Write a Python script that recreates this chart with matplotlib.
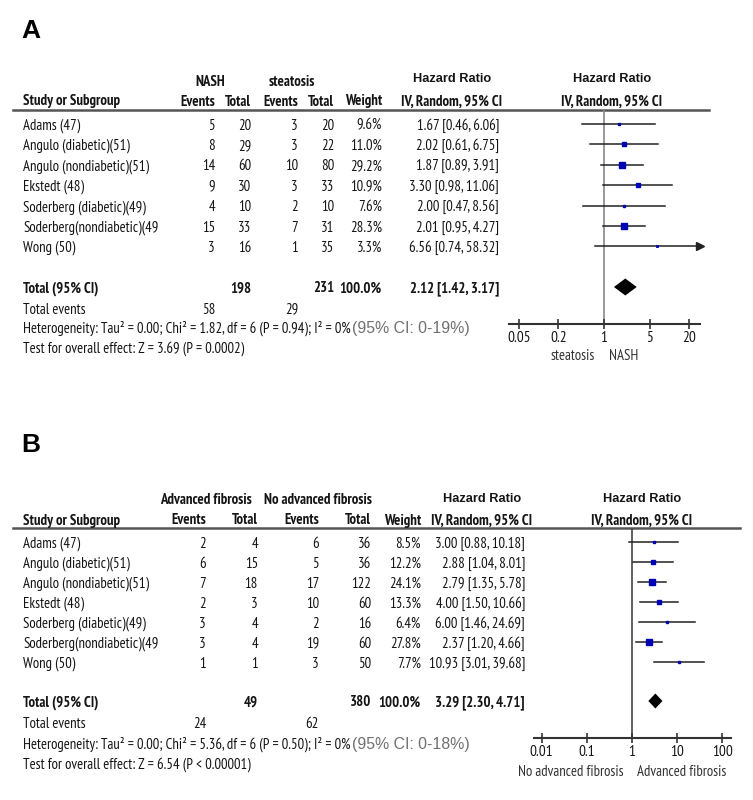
import matplotlib
matplotlib.use('Agg')
import matplotlib.pyplot as plt
from matplotlib.ticker import NullLocator

NARROW = ['PT Sans Narrow', 'Roboto Condensed', 'DejaVu Sans']
WIDE = ['Liberation Sans', 'DejaVu Sans']
INK = '#151515'
BLUE = '#0000b4'
FS = 10.6

# ── data ───────────────────────────────────────────────
studies = ['Adams (47)', 'Angulo (diabetic)(51)', 'Angulo (nondiabetic)(51)',
           'Ekstedt (48)', 'Soderberg (diabetic)(49)', 'Soderberg(nondiabetic)(49',
           'Wong (50)']

# panel A: NASH vs steatosis
a_ev1 = [5, 8, 14, 9, 4, 15, 3]
a_tot1 = [20, 29, 60, 30, 10, 33, 16]
a_ev2 = [3, 3, 10, 3, 2, 7, 1]
a_tot2 = [20, 22, 80, 33, 10, 31, 35]
a_weight = [9.6, 11.0, 29.2, 10.9, 7.6, 28.3, 3.3]
a_hr = [1.67, 2.02, 1.87, 3.30, 2.00, 2.01, 6.56]
a_lo = [0.46, 0.61, 0.89, 0.98, 0.47, 0.95, 0.74]
a_hi = [6.06, 6.75, 3.91, 11.06, 8.56, 4.27, 58.32]
a_total = (198, 231, 2.12, 1.42, 3.17)
a_events = (58, 29)
a_het = ('Heterogeneity: Tau² = 0.00; Chi² = 1.82, df = 6 (P = 0.94); I² = 0%', '(95% CI: 0-19%)')
a_test = 'Test for overall effect: Z = 3.69 (P = 0.0002)'
a_groups = ('NASH', 'steatosis')
a_ticks = [0.05, 0.2, 1, 5, 20]
a_ticklabels = ['0.05', '0.2', '1', '5', '20']

# panel B: advanced vs no advanced fibrosis
b_ev1 = [2, 6, 7, 2, 3, 3, 1]
b_tot1 = [4, 15, 18, 3, 4, 4, 1]
b_ev2 = [6, 5, 17, 10, 2, 19, 3]
b_tot2 = [36, 36, 122, 60, 16, 60, 50]
b_weight = [8.5, 12.2, 24.1, 13.3, 6.4, 27.8, 7.7]
b_hr = [3.00, 2.88, 2.79, 4.00, 6.00, 2.37, 10.93]
b_lo = [0.88, 1.04, 1.35, 1.50, 1.46, 1.20, 3.01]
b_hi = [10.18, 8.01, 5.78, 10.66, 24.69, 4.66, 39.68]
b_total = (49, 380, 3.29, 2.30, 4.71)
b_events = (24, 62)
b_het = ('Heterogeneity: Tau² = 0.00; Chi² = 5.36, df = 6 (P = 0.50); I² = 0%', '(95% CI: 0-18%)')
b_test = 'Test for overall effect: Z = 6.54 (P < 0.00001)'
b_groups = ('Advanced fibrosis', 'No advanced fibrosis')
b_ticks = [0.01, 0.1, 1, 10, 100]
b_ticklabels = ['0.01', '0.1', '1', '10', '100']

# ── figure: background axes in pixel units ─────────────
W, H = 753, 800
fig = plt.figure(figsize=(W / 100, H / 100), dpi=100)
bg = fig.add_axes([0, 0, 1, 1])
bg.set_xlim(0, W); bg.set_ylim(H, 0); bg.axis('off')


def txt(x, y, s, ha='left', bold=False, size=FS, family=NARROW, color=INK):
    return bg.text(x, y, s, ha=ha, va='center_baseline', fontsize=size,
                   fontweight='bold' if bold else 'normal', family=family, color=color)


def panel(label, lay, ev1, tot1, ev2, tot2, weight, hr, lo, hi, total, events,
          het, test, groups, ticks, ticklabels, favours):
    c = lay['cols']   # right edges: ev1, tot1, ev2, tot2, weight, hr
    txt(21, lay['label_y'], label, bold=True, size=19, family=WIDE, color='black')

    # headers
    txt(lay['g1_x'], lay['h1_y'], groups[0], ha='center', bold=True)
    txt(lay['g2_x'], lay['h1_y'], groups[1], ha='center', bold=True)
    txt(lay['hr_hx'], lay['h1_y'] - 2, 'Hazard Ratio', ha='center', bold=True, size=9.2, family=WIDE)
    txt(lay['fp_hx'], lay['h1_y'] - 2, 'Hazard Ratio', ha='center', bold=True, size=9.2, family=WIDE)
    txt(23, lay['h2_y'], 'Study or Subgroup', bold=True)
    for x, s in zip(c[:5], ['Events', 'Total', 'Events', 'Total', 'Weight']):
        txt(x, lay['h2_y'], s, ha='right', bold=True)
    txt(lay['hr_hx'], lay['h2_y'], 'IV, Random, 95% CI', ha='center', bold=True)
    txt(lay['fp_hx'], lay['h2_y'], 'IV, Random, 95% CI', ha='center', bold=True)
    bg.plot([13, lay['line_x1']], [lay['line_y']] * 2, color='#555555', lw=1.8)

    # study rows
    rows_y = [lay['row0'] + i * lay['step'] for i in range(len(studies))]
    for i, y in enumerate(rows_y):
        txt(23, y, studies[i])
        for x, v in zip(c[:4], [ev1[i], tot1[i], ev2[i], tot2[i]]):
            txt(x, y, str(v), ha='right')
        txt(c[4], y, f'{weight[i]:.1f}%', ha='right')
        txt(c[5], y, f'{hr[i]:.2f} [{lo[i]:.2f}, {hi[i]:.2f}]', ha='right')

    # totals
    ty = lay['total_y']
    txt(23, ty, 'Total (95% CI)', bold=True)
    txt(c[1], ty, str(total[0]), ha='right', bold=True)
    txt(c[3], ty, str(total[1]), ha='right', bold=True)
    txt(c[4], ty, '100.0%', ha='right', bold=True)
    txt(c[5], ty, f'{total[2]:.2f} [{total[3]:.2f}, {total[4]:.2f}]', ha='right', bold=True)
    txt(23, lay['ev_y'], 'Total events')
    txt(c[0], lay['ev_y'], str(events[0]), ha='right')
    txt(c[2], lay['ev_y'], str(events[1]), ha='right')
    t = txt(23, lay['het_y'], het[0])
    bg.annotate(het[1], xy=(1, 0), xycoords=t, xytext=(1, 0), textcoords='offset points',
                va='bottom', ha='left', fontsize=11.4, family=WIDE, color='#707070')
    txt(23, lay['test_y'], test)

    # forest plot
    x0, x1, one, dec = lay['fp_x0'], lay['fp_x1'], lay['fp_one'], lay['fp_dec']
    ytop, yaxis = lay['line_y'], lay['axis_y']
    ax = fig.add_axes([x0 / W, 1 - yaxis / H, (x1 - x0) / W, (yaxis - ytop) / H])
    ax.set_xscale('log')
    xmin, xmax = 10 ** ((x0 - one) / dec), 10 ** ((x1 - one) / dec)
    ax.set_xlim(xmin, xmax)
    ax.set_ylim(yaxis, ytop)
    ax.patch.set_alpha(0)
    ax.axvline(1, color=lay['vcol'], lw=1.2, zorder=1)
    for i, y in enumerate(rows_y):
        right = min(hi[i], xmax)
        ax.plot([max(lo[i], xmin), right], [y, y], color='#222222', lw=1.1, zorder=2)
        if hi[i] > xmax:
            ax.plot(xmax, y, marker='>', ms=6, color='#222222', clip_on=False, zorder=2)
        side = 1 + 0.2 * weight[i]
        ax.plot(hr[i], y, marker='s', ms=side * 0.72, color=BLUE, lw=0, zorder=3)
    d = lay['dia_h']
    ax.fill([total[3], total[2], total[4], total[2]], [ty, ty - d, ty, ty + d],
            color='black', lw=0, zorder=3)
    for s in ['left', 'right', 'top']:
        ax.spines[s].set_visible(False)
    ax.spines['bottom'].set_linewidth(1.5)
    ax.spines['bottom'].set_color('#333333')
    ax.set_yticks([])
    ax.set_xticks(ticks)
    ax.set_xticklabels(ticklabels, family=NARROW, fontsize=FS + 0.4, color=INK)
    ax.xaxis.set_minor_locator(NullLocator())
    ax.tick_params(axis='x', direction='inout', length=6.5, width=1.2, pad=2, color='#333333')
    # favours labels: left one ends before the null line, right one starts after it
    txt(lay['fav1_x'], lay['fav_y'], favours[0], ha='right', color='#333333')
    txt(lay['fav2_x'], lay['fav_y'], favours[1], ha='left', color='#333333')


lay_a = dict(label_y=28, h1_y=80, h2_y=100, line_y=110, line_x1=709,
             g1_x=210, g2_x=292, hr_hx=452, fp_hx=612,
             cols=[215, 251, 298, 334, 382, 499],
             row0=124, step=20.4, total_y=287, ev_y=308, het_y=327, test_y=347,
             fp_x0=509, fp_x1=700, fp_one=604, fp_dec=65.3, axis_y=324, vcol='#888888',
             dia_h=8.5, fav_y=355, fav1_x=595, fav2_x=609)
lay_b = dict(label_y=442, h1_y=499, h2_y=519, line_y=528, line_x1=740,
             g1_x=206, g2_x=318, hr_hx=482, fp_hx=642,
             cols=[206, 258, 319, 371, 421, 525],
             row0=542, step=20, total_y=701, ev_y=723, het_y=743, test_y=763,
             fp_x0=534, fp_x1=731, fp_one=632, fp_dec=45.2, axis_y=738, vcol='#444444',
             dia_h=7.5, fav_y=771, fav1_x=624, fav2_x=637)

panel('A', lay_a, a_ev1, a_tot1, a_ev2, a_tot2, a_weight, a_hr, a_lo, a_hi,
      a_total, a_events, a_het, a_test, a_groups, a_ticks, a_ticklabels,
      ('steatosis', 'NASH'))
panel('B', lay_b, b_ev1, b_tot1, b_ev2, b_tot2, b_weight, b_hr, b_lo, b_hi,
      b_total, b_events, b_het, b_test, b_groups, b_ticks, b_ticklabels,
      ('No advanced fibrosis', 'Advanced fibrosis'))

fig.savefig('out.png', dpi=100)
